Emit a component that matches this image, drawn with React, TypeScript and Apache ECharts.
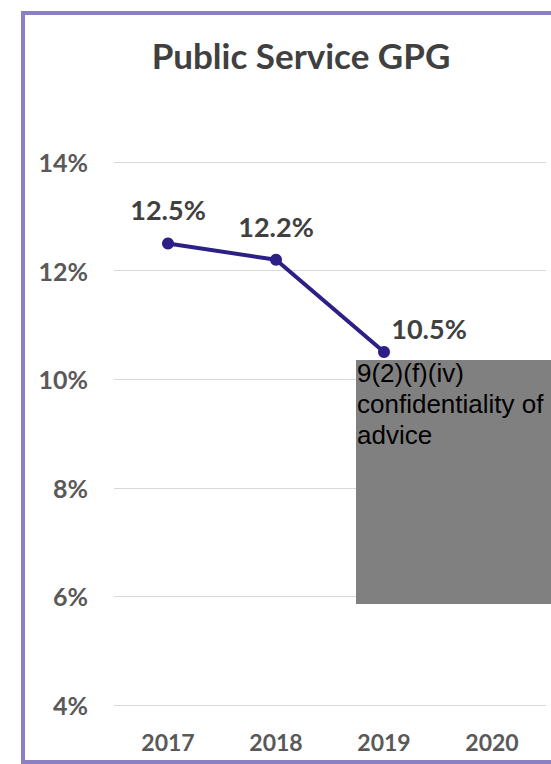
import React, { useEffect, useRef } from "react";
import * as echarts from "echarts";

const years = ["2017", "2018", "2019", "2020"];
const gpgValues = [12.5, 12.2, 10.5];
const yTicks = { min: 4, max: 14, interval: 2 };
const titleText = "Public Service GPG";
const redactionText = "9(2)(f)(iv)\nconfidentiality of\nadvice";

export default function App() {
  const ref = useRef<HTMLDivElement>(null);
  useEffect(() => {
    document.body.style.margin = "0";
    const chart = echarts.init(ref.current!, null, { renderer: "svg" });
    const seriesData = gpgValues.map((v, i) =>
      i === 2 ? { value: v, label: { offset: [45, 10] } } : { value: v }
    );
    chart.setOption({
      animation: false,
      backgroundColor: "#ffffff",
      title: {
        text: titleText,
        left: 296,
        top: 32,
        textAlign: "center",
        textStyle: {
          fontFamily: "Lato",
          fontWeight: "bold",
          fontSize: 35,
          color: "#404040",
        },
      },
      grid: { left: 114, right: 5, top: 162, bottom: 59 },
      xAxis: {
        type: "category",
        data: years,
        boundaryGap: true,
        axisLine: { show: false },
        axisTick: { show: false },
        axisLabel: {
          margin: 25,
          fontFamily: "Lato",
          fontWeight: "bold",
          fontSize: 23,
          color: "#595959",
        },
      },
      yAxis: {
        type: "value",
        min: yTicks.min,
        max: yTicks.max,
        interval: yTicks.interval,
        axisLine: { show: false },
        axisTick: { show: false },
        splitLine: { lineStyle: { color: "#d9d9d9", width: 1 } },
        axisLabel: {
          margin: 26,
          formatter: (v: number) => v + "%",
          fontFamily: "Lato",
          fontWeight: "bold",
          fontSize: 25,
          color: "#595959",
        },
      },
      series: [
        {
          type: "line",
          data: seriesData,
          symbol: "circle",
          symbolSize: 12,
          lineStyle: { color: "#2c1f86", width: 4 },
          itemStyle: { color: "#2c1f86" },
          label: {
            show: true,
            position: "top",
            distance: 14,
            formatter: (p: any) => p.value.toFixed(1) + "%",
            fontFamily: "Lato",
            fontWeight: "bold",
            fontSize: 27,
            color: "#404040",
          },
        },
      ],
      graphic: [
        {
          type: "rect",
          shape: { x: 23, y: 13, width: 600, height: 749 },
          style: { fill: "none", stroke: "#8b80c0", lineWidth: 4 },
          silent: true,
          z: 10,
        },
        {
          type: "rect",
          shape: { x: 356, y: 360, width: 200, height: 244 },
          style: { fill: "#808080" },
          z: 20,
        },
        {
          type: "text",
          x: 357,
          y: 357,
          z: 21,
          style: {
            text: redactionText,
            fill: "#000000",
            font: "26px 'Liberation Sans', Arial, sans-serif",
            lineHeight: 31,
          },
        },
      ],
    });
    return () => chart.dispose();
  }, []);
  return (
    <div
      ref={ref}
      style={{ position: "fixed", left: 0, top: 0, width: 551, height: 764 }}
    />
  );
}
